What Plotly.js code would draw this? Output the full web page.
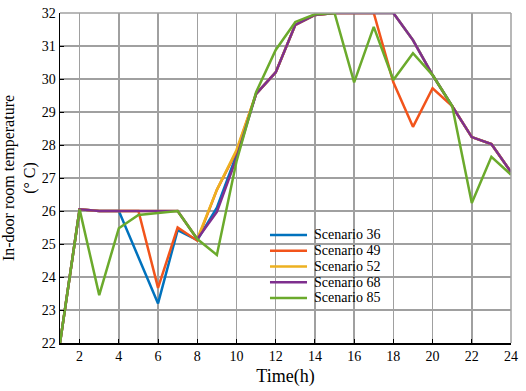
<!DOCTYPE html>
<html><head><meta charset="utf-8">
<script src="https://cdn.plot.ly/plotly-3.0.1.min.js"></script>
<style>html,body{margin:0;padding:0;background:#fff}</style>
</head><body><div id="chart" style="width:526px;height:391px"></div>
<script>
const hours = [1,2,3,4,5,6,7,8,9,10,11,12,13,14,15,16,17,18,19,20,21,22,23,24];
const scenario36 = [22,26.05,26,26,24.6,23.2,25.42,25.12,26.1,27.7,29.55,30.2,31.64,31.94,32,32,32,32,31.18,30.12,29.18,28.24,28.03,27.18];
const scenario49 = [22,26.05,26,26,26,23.67,25.5,25.1,26.64,27.8,29.55,30.2,31.64,31.94,32,32,32,29.9,28.55,29.72,29.18,28.24,28.03,27.18];
const scenario52 = [22,26.05,26,26,26,26,26,25.15,26.64,27.85,29.55,30.2,31.64,31.94,32,32,32,32,31.18,30.12,29.18,28.24,28.03,27.18];
const scenario68 = [22,26.05,26,26,26,26,26,25.15,25.97,27.6,29.55,30.2,31.64,31.94,32,32,32,32,31.18,30.12,29.18,28.24,28.03,27.18];
const scenario85 = [22,26.05,23.45,25.48,25.88,25.95,26,25.15,24.67,27.5,29.6,30.88,31.73,31.96,32,29.9,31.58,29.97,30.78,30.12,29.18,26.24,27.64,27.1];
const names = ["Scenario 36","Scenario 49","Scenario 52","Scenario 68","Scenario 85"];
const colors = ["#0072BD","#F2541B","#EDB120","#7E2F8E","#6BAA2C"];
const series = [scenario36,scenario49,scenario52,scenario68,scenario85];
const xTicks = [2,4,6,8,10,12,14,16,18,20,22,24];
const yTicks = [22,23,24,25,26,27,28,29,30,31,32];

const serif = "Liberation Serif, Times New Roman, serif";
const traces = series.map((s,i)=>({
  x: hours, y: s, type:"scatter", mode:"lines", name: names[i],
  line:{color:colors[i], width:2.5}
}));

// custom legend (paper coordinates)
const legX0 = 0.4656, legX1 = 0.5477, legTextX = 0.558, legTop = 0.3273, legStep = 0.0477;
const legendShapes = names.map((n,i)=>({
  type:"line", xref:"paper", yref:"paper", x0:legX0, x1:legX1,
  y0:legTop - i*legStep, y1:legTop - i*legStep, line:{color:colors[i], width:2.5}
}));
const legendText = names.map((n,i)=>({
  xref:"paper", yref:"paper", x:legTextX, y:legTop - i*legStep, text:n,
  showarrow:false, xanchor:"left", yanchor:"middle",
  font:{family:serif, size:14, color:"#000"}
}));

const layout = {
  width:526, height:391,
  margin:{l:60, r:15, t:13, b:48},
  paper_bgcolor:"#fff", plot_bgcolor:"#fff",
  font:{family:serif, color:"#000", size:14},
  showlegend:false,
  xaxis:{range:[1,24], tickvals:xTicks, ticktext:xTicks.map(String),
    showgrid:true, gridcolor:"#a0a0a0", gridwidth:1.5,
    showline:true, linecolor:"#000", linewidth:1.5, mirror:false,
    ticks:"inside", ticklen:4, tickcolor:"#000", zeroline:false,
    tickfont:{family:serif, size:14},
    title:{text:"Time(h)", font:{family:serif, size:18}, standoff:6}},
  yaxis:{range:[22,32], tickvals:yTicks, ticktext:yTicks.map(String),
    showgrid:true, gridcolor:"#a0a0a0", gridwidth:1.5,
    showline:true, linecolor:"#000", linewidth:1.5,
    ticks:"inside", ticklen:4, tickcolor:"#000", zeroline:false,
    tickfont:{family:serif, size:14},
    title:{text:"In-door room temperature<br>(° C)", font:{family:serif, size:16}, standoff:6}},
  shapes:[
    {type:"line", xref:"paper", yref:"paper", x0:0, x1:1, y0:1, y1:1, line:{color:"#a0a0a0", width:1.5}},
    {type:"line", xref:"paper", yref:"paper", x0:1, x1:1, y0:0, y1:1, line:{color:"#a0a0a0", width:1.5}}
  ].concat(legendShapes),
  annotations: legendText
};
Plotly.newPlot("chart", traces, layout, {displayModeBar:false, staticPlot:true});
</script></body></html>
